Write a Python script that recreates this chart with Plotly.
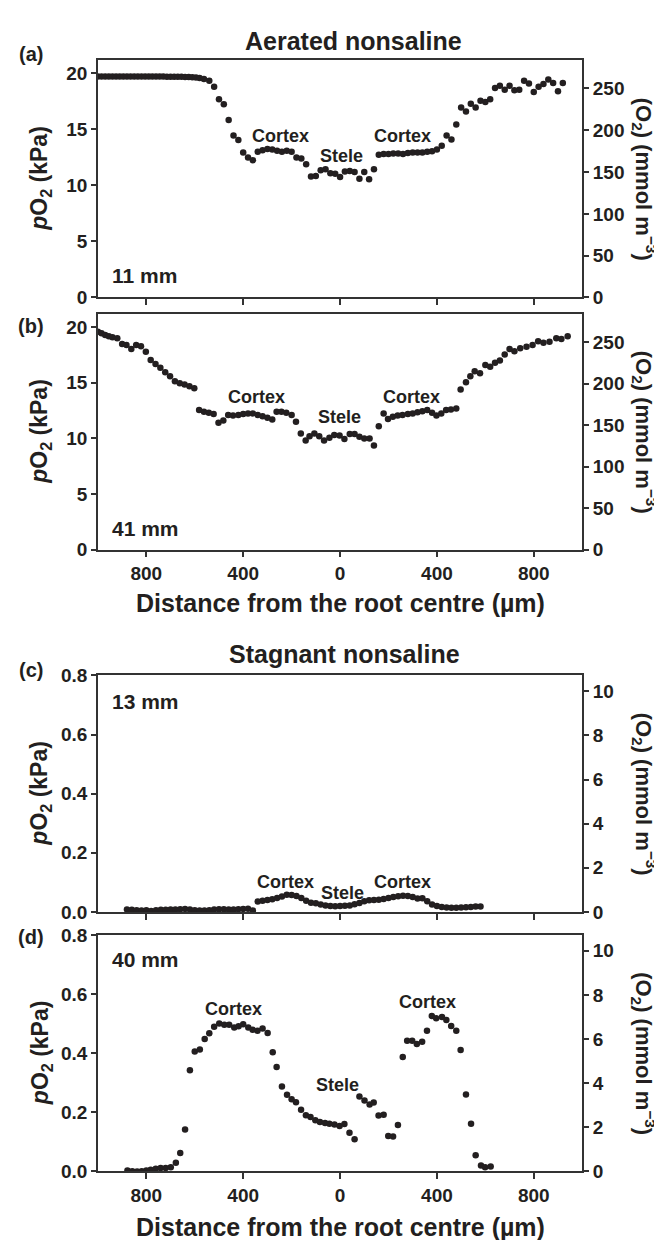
import plotly.graph_objects as go

# ---------------- data ----------------
# (a) Aerated nonsaline, 11 mm
xa = [-1000, -985, -970, -955, -940, -925, -910, -895, -880, -865, -850, -835, -820, -805,
      -790, -775, -760, -745, -730, -715, -700, -685, -670, -655, -640, -625, -610, -595,
      -580, -562, -540, -520, -500, -480, -460, -440, -420, -400, -380, -360, -340, -320,
      -300, -280, -260, -240, -220, -200, -180, -160, -140, -120, -100, -80, -60, -40, -20,
      0, 20, 40, 60, 80, 100, 120, 140, 160, 180, 200, 220, 240, 260, 280, 300, 320, 340,
      360, 380, 400, 420, 440, 460, 480, 500, 520, 540, 560, 580, 600, 620, 640, 660, 680,
      700, 720, 740, 760, 780, 800, 820, 840, 860, 880, 900, 920]
ya = [19.72, 19.72, 19.72, 19.72, 19.72, 19.72, 19.72, 19.72, 19.72, 19.72, 19.72, 19.72,
      19.72, 19.72, 19.72, 19.72, 19.72, 19.72, 19.72, 19.7, 19.7, 19.7, 19.7, 19.7, 19.68,
      19.68, 19.66, 19.64, 19.6, 19.5, 19.35, 18.8, 17.7, 17.25, 15.85, 14.45, 14.05, 12.95,
      12.5, 12.25, 13.0, 13.15, 13.25, 13.2, 13.1, 13.0, 13.1, 13.0, 12.5, 12.4, 11.9, 10.8,
      10.85, 11.35, 11.45, 11.1, 11.05, 10.75, 11.25, 11.3, 11.2, 10.6, 11.2, 10.55, 11.45,
      12.75, 12.8, 12.8, 12.85, 12.85, 12.8, 12.9, 12.95, 12.95, 12.95, 13.0, 13.05, 13.2,
      13.55, 14.45, 14.1, 15.45, 16.95, 16.6, 17.3, 16.95, 17.55, 17.45, 17.7, 18.7, 18.9,
      18.55, 18.9, 18.5, 18.55, 19.35, 19.1, 18.35, 18.8, 19.05, 19.45, 19.15, 18.4, 19.15]

# (b) Aerated nonsaline, 41 mm
xb = [-1000, -985, -970, -955, -940, -920, -900, -882, -862, -842, -822, -802, -782, -762,
      -742, -722, -702, -682, -662, -642, -622, -602, -582, -562, -542, -522, -502, -482,
      -462, -442, -420, -400, -380, -360, -340, -320, -300, -280, -262, -242, -222, -200,
      -182, -162, -142, -126, -106, -86, -66, -44, -24, -2, 18, 40, 60, 80, 100, 122, 140,
      160, 180, 198, 218, 238, 258, 280, 300, 320, 340, 360, 380, 398, 418, 438, 458, 480,
      498, 520, 538, 556, 578, 600, 620, 640, 660, 680, 700, 720, 744, 770, 795, 818, 840,
      865, 893, 914, 940]
yb = [19.6, 19.45, 19.3, 19.2, 19.1, 19.0, 18.5, 18.4, 18.05, 18.4, 18.3, 17.8, 17.05, 16.7,
      16.35, 15.95, 15.6, 15.15, 14.95, 14.85, 14.7, 14.5, 12.55, 12.4, 12.3, 12.2, 11.4, 11.6,
      12.1, 12.05, 12.1, 12.2, 12.25, 12.25, 12.1, 12.0, 11.85, 11.7, 12.4, 12.4, 12.3, 12.1,
      11.5, 10.45, 9.8, 10.2, 10.45, 10.2, 9.8, 10.05, 10.3, 10.25, 9.95, 10.4, 10.4, 10.15,
      10.0, 10.0, 9.35, 11.1, 12.25, 11.75, 11.95, 12.05, 12.1, 12.2, 12.25, 12.35, 12.45,
      12.55, 12.3, 12.05, 12.25, 12.55, 12.6, 12.7, 14.4, 15.05, 15.6, 16.05, 15.85, 16.6,
      16.45, 16.8, 17.0, 17.55, 18.05, 17.85, 18.1, 18.25, 18.4, 18.75, 18.6, 18.7, 19.0,
      18.95, 19.2]

# (c) Stagnant nonsaline, 13 mm
xc = [-880, -860, -840, -820, -800, -780, -760, -740, -720, -700, -680, -660, -640, -620,
      -600, -580, -560, -540, -520, -500, -480, -460, -440, -420, -400, -380, -360,
      -340, -320, -300, -280, -260, -240, -220, -200, -180, -160, -140, -120, -100, -80,
      -60, -40, -20, 0, 20, 40, 60, 80, 100, 120, 140, 160, 180, 200, 220, 240, 260, 280,
      300, 320, 340, 360, 380, 400, 420, 440, 460, 480, 500, 520, 540, 560, 580]
yc = [0.008, 0.007, 0.006, 0.005, 0.006, 0.003, 0.006, 0.007, 0.007, 0.008, 0.008, 0.009,
      0.010, 0.008, 0.006, 0.005, 0.005, 0.006, 0.008, 0.009, 0.009, 0.008, 0.008, 0.009,
      0.010, 0.011, 0.005,
      0.035, 0.038, 0.040, 0.043, 0.047, 0.052, 0.058, 0.057, 0.054, 0.047, 0.038, 0.031,
      0.029, 0.025, 0.022, 0.020, 0.019, 0.020, 0.021, 0.022, 0.026, 0.030, 0.036, 0.039,
      0.040, 0.041, 0.044, 0.047, 0.050, 0.053, 0.055, 0.054, 0.050, 0.045, 0.046, 0.036,
      0.025, 0.020, 0.017, 0.015, 0.014, 0.014, 0.015, 0.016, 0.017, 0.018, 0.018]

# (d) Stagnant nonsaline, 40 mm
xd = [-878, -858, -838, -819, -800, -782, -761, -741, -720, -699, -678, -660, -640, -620,
      -600, -579, -559, -540, -520, -499, -478, -458, -437, -419, -400, -379, -361, -341,
      -320, -299, -278, -262, -240, -219, -200, -182, -161, -141, -122, -102, -83, -62, -44,
      -23, -2, 18, 39, 60, 80, 101, 122, 139, 159, 180, 199, 219, 239, 259, 277, 298, 317,
      339, 359, 379, 397, 421, 439, 459, 480, 498, 520, 541, 560, 582, 599, 622]
yd = [0.003, 0.001, 0.0, 0.001, 0.003, 0.006, 0.009, 0.012, 0.012, 0.014, 0.029, 0.062,
      0.142, 0.342, 0.406, 0.412, 0.448, 0.467, 0.489, 0.5, 0.496, 0.496, 0.487, 0.491, 0.498,
      0.487, 0.479, 0.476, 0.483, 0.468, 0.403, 0.353, 0.287, 0.259, 0.244, 0.234, 0.209,
      0.19, 0.184, 0.173, 0.167, 0.164, 0.161, 0.159, 0.154, 0.16, 0.131, 0.109, 0.253, 0.24,
      0.226, 0.233, 0.189, 0.192, 0.12, 0.118, 0.157, 0.387, 0.442, 0.442, 0.431, 0.439,
      0.476, 0.526, 0.518, 0.522, 0.512, 0.492, 0.476, 0.411, 0.26, 0.161, 0.055, 0.02,
      0.014, 0.017]

# axis ticks / labels
x_tickvals = [-800, -400, 0, 400, 800]
x_ticktext = ["800", "400", "0", "400", "800"]
y_ticks_aer = [0, 5, 10, 15, 20]
y_ticks_stag = [0, 0.2, 0.4, 0.6, 0.8]
y_ticks_aer_text = ["0", "5", "10", "15", "20"]
y_ticks_stag_text = ["0.0", "0.2", "0.4", "0.6", "0.8"]
r_ticks_aer = [0, 50, 100, 150, 200, 250]
r_ticks_stag = [0, 2, 4, 6, 8, 10]
conv = 13.4  # mmol m-3 per kPa

panel_titles = ["Aerated nonsaline", "Stagnant nonsaline"]
panel_letters = ["(a)", "(b)", "(c)", "(d)"]
depth_labels = ["11 mm", "41 mm", "13 mm", "40 mm"]
xtitle = "Distance from the root centre (µm)"
ytitle_left = "<i>p</i>O<sub>2</sub> (kPa)"
ytitle_right = "(O<sub>2</sub>) (mmol m<sup>−3</sup>)"

# region labels (text, x, y) per panel
regions = [
    [("Cortex", -248, 14.4), ("Stele", 5, 12.66), ("Cortex", 258, 14.4)],
    [("Cortex", -344, 13.74), ("Stele", -4, 11.94), ("Cortex", 293, 13.74)],
    [("Cortex", -227, 0.0997), ("Stele", 9, 0.064), ("Cortex", 258, 0.0997)],
    [("Cortex", -440, 0.549), ("Stele", -12, 0.294), ("Cortex", 363, 0.574)],
]

# ---------------- layout geometry (pixels) ----------------
W, H = 662, 1240
FONT = "Liberation Sans, Arial, sans-serif"
INK = "#231f20"
LINE = "#333333"
xdom = [89.9 / W, 574.2 / W]
panels_px = [(42.7, 284.3), (301.0, 540.7), (668.7, 909.3), (932.7, 1173.3)]
ymax = [21.2, 21.2, 0.8, 0.8]


def py(p):
    return 1 - p / H


def f(size):
    return dict(family=FONT, size=size, color=INK, weight="bold")


fig = go.Figure()
xs = [xa, xb, xc, xd]
ys = [ya, yb, yc, yd]

layout = dict(width=W, height=H, margin=dict(l=0, r=0, t=0, b=0),
              plot_bgcolor="white", paper_bgcolor="white", showlegend=False,
              font=f(19))
annotations = []

for i in range(4):
    n = i + 1
    xn = "x" if n == 1 else f"x{n}"
    yn = "y" if n == 1 else f"y{n}"
    yr = f"y{n + 4}"
    top, bot = panels_px[i]
    dom = [py(bot), py(top)]
    fig.add_trace(go.Scatter(x=xs[i], y=ys[i], mode="markers", xaxis=xn, yaxis=yn,
                             marker=dict(size=6.5, color=INK), hoverinfo="skip"))
    fig.add_trace(go.Scatter(x=[None], y=[None], mode="markers", xaxis=xn, yaxis=yr,
                             hoverinfo="skip"))
    aer = i < 2
    layout["xaxis" if n == 1 else f"xaxis{n}"] = dict(
        domain=xdom, anchor=yn, range=[-1000, 1000], tickvals=x_tickvals,
        ticktext=x_ticktext, showticklabels=(i in (1, 3)), ticks="outside", ticklen=6,
        tickwidth=1.5, tickcolor=LINE, showline=True, linecolor=LINE, linewidth=1.5,
        mirror=True, showgrid=False, zeroline=False, tickfont=f(19))
    layout["yaxis" if n == 1 else f"yaxis{n}"] = dict(
        domain=dom, anchor=xn, range=[0, ymax[i]],
        tickvals=y_ticks_aer if aer else y_ticks_stag,
        ticktext=y_ticks_aer_text if aer else y_ticks_stag_text,
        ticks="outside", ticklen=5, tickwidth=1.5, tickcolor=LINE, showline=True,
        linecolor=LINE, linewidth=1.5, showgrid=False, zeroline=False,
        tickfont=f(19))
    layout[f"yaxis{n + 4}"] = dict(
        overlaying=yn, side="right", anchor=xn, range=[0, ymax[i] * conv],
        tickvals=r_ticks_aer if aer else r_ticks_stag,
        ticks="outside", ticklen=5, tickwidth=1.5, tickcolor=LINE, showline=True,
        linecolor=LINE, linewidth=1.5, showgrid=False, zeroline=False,
        tickfont=f(19))

    cy = py((top + bot) / 2)
    annotations.append(dict(text=ytitle_left, xref="paper", yref="paper", x=33 / W, y=cy,
                            textangle=-90, showarrow=False, font=f(23),
                            xanchor="center", yanchor="middle"))
    annotations.append(dict(text=ytitle_right, xref="paper", yref="paper", x=636 / W, y=cy,
                            textangle=90, showarrow=False, font=f(22),
                            xanchor="center", yanchor="middle"))
    for (t, rx, ry) in regions[i]:
        annotations.append(dict(text=t, x=rx, y=ry, xref=xn, yref=yn, showarrow=False,
                                font=f(18), xanchor="center", yanchor="middle"))

letter_y = [36.7, 313.3, 663.3, 935.0]
depth_y = [261.7, 519.0, 695.0, 958.0]
for i in range(4):
    annotations.append(dict(text=panel_letters[i], xref="paper", yref="paper",
                            x=23 / W, y=py(letter_y[i]), showarrow=False,
                            font=f(20), xanchor="center", yanchor="middle"))
    annotations.append(dict(text=depth_labels[i], xref="paper", yref="paper",
                            x=102 / W, y=py(depth_y[i]), showarrow=False,
                            font=f(21), xanchor="left", yanchor="middle"))

annotations.append(dict(text=panel_titles[0], xref="paper", yref="paper", x=345 / W,
                        y=py(23.3), showarrow=False, font=f(25),
                        xanchor="center", yanchor="middle"))
annotations.append(dict(text=panel_titles[1], xref="paper", yref="paper", x=336 / W,
                        y=py(646.7), showarrow=False, font=f(25),
                        xanchor="center", yanchor="middle"))
for yy in (595.0, 1230.0):
    annotations.append(dict(text=xtitle, xref="paper", yref="paper", x=332 / W,
                            y=py(yy), showarrow=False, font=f(25),
                            xanchor="center", yanchor="middle"))

layout["annotations"] = annotations
fig.update_layout(**layout)
fig.write_html("out.html")
